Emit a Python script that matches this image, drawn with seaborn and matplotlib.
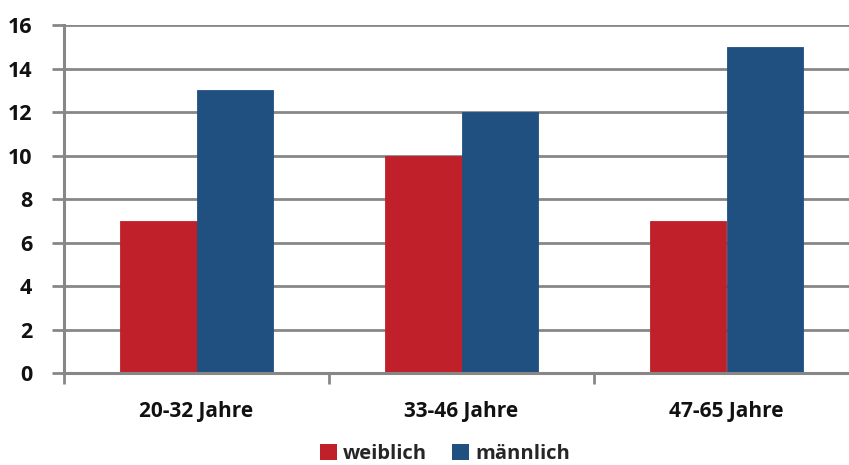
import matplotlib
matplotlib.use("Agg")
import matplotlib.pyplot as plt
import seaborn as sns
import pandas as pd
from matplotlib.patches import Patch

# Age groups and counts per gender
categories = ["20-32 Jahre", "33-46 Jahre", "47-65 Jahre"]
weiblich = [7, 10, 7]
maennlich = [13, 12, 15]
series_names = ["weiblich", "männlich"]
colors = ["#C0202A", "#1F5080"]
y_ticks = [0, 2, 4, 6, 8, 10, 12, 14, 16]

df = pd.DataFrame({
    "Altersgruppe": categories * 2,
    "Anzahl": weiblich + maennlich,
    "Geschlecht": [series_names[0]] * len(categories) + [series_names[1]] * len(categories),
})

sns.set_theme(style="white")
plt.rcParams["font.family"] = ["Open Sans", "DejaVu Sans"]
plt.rcParams["font.weight"] = "bold"

fig = plt.figure(figsize=(8.49, 4.65), dpi=100)
ax = fig.add_axes([64 / 849, 1 - 373 / 465, (859 - 64) / 849, (373 - 25) / 465])

sns.barplot(data=df, x="Altersgruppe", y="Anzahl", hue="Geschlecht",
            palette=colors, width=0.574, saturation=1, ax=ax, legend=False)
for bar in ax.patches:
    bar.set_edgecolor(bar.get_facecolor())
    bar.set_linewidth(0.6)

grid_col = "#878787"
ax.set_ylim(0, 16)
ax.set_xlim(-0.5, 2.5)
ax.set_yticks(y_ticks)
ax.yaxis.grid(True, color=grid_col, linewidth=2)
ax.set_axisbelow(True)
for s in ["top", "right"]:
    ax.spines[s].set_visible(False)
for s in ["left", "bottom"]:
    ax.spines[s].set_color(grid_col)
    ax.spines[s].set_linewidth(2.2)

ax.set_xlabel("")
ax.set_ylabel("")
ax.tick_params(axis="y", which="major", length=9, width=2, color=grid_col,
               direction="out", left=True, pad=14, labelsize=15.5)
ax.tick_params(axis="x", which="major", length=0, pad=20, labelsize=15)
ax.set_xticks([-0.5, 0.5, 1.5, 2.5], minor=True)
ax.tick_params(axis="x", which="minor", length=8, width=2, color=grid_col,
               direction="out", bottom=True)
for lbl in ax.get_xticklabels() + ax.get_yticklabels():
    lbl.set_fontweight("bold")
    lbl.set_color("#111111")

handles = [Patch(facecolor=c, edgecolor="none") for c in colors]
fig.legend(handles, series_names, loc="center", bbox_to_anchor=(445 / 849, 1 - 454 / 465),
           ncol=2, frameon=False, prop={"weight": "bold", "size": 14.5},
           handlelength=0.85, handleheight=0.85, handletextpad=0.3, columnspacing=1.25,
           borderpad=0)

fig.savefig("out.png", dpi=100)
